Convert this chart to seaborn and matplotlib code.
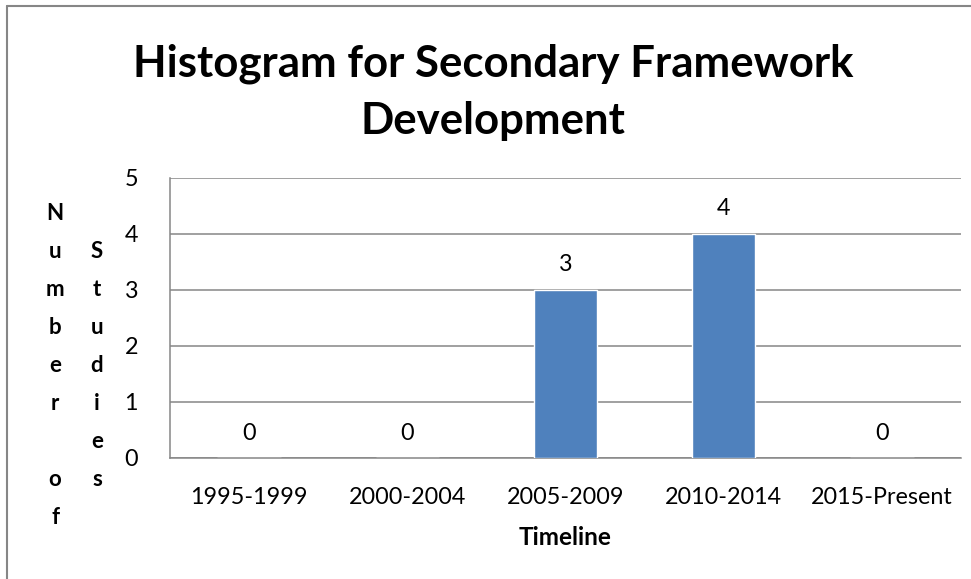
import matplotlib
matplotlib.use("Agg")
import matplotlib.pyplot as plt
import seaborn as sns
from matplotlib.lines import Line2D

# -------------------- Data --------------------
periods = ["1995-1999", "2000-2004", "2005-2009", "2010-2014", "2015-Present"]
counts = [0, 0, 3, 4, 0]
title = "Histogram for Secondary Framework\nDevelopment"
ylabel_left = "Number of"
ylabel_right = "Studies"
xlabel = "Timeline"

# -------------------- Style --------------------
sns.set_theme(style="white")
plt.rcParams["font.family"] = ["Lato", "DejaVu Sans"]
plt.rcParams["text.color"] = "black"
plt.rcParams["axes.labelcolor"] = "black"
bar_color = "#4F81BD"
line_color = "#868686"

W, H = 971, 579
fig = plt.figure(figsize=(W / 100, H / 100), dpi=100)
ax = fig.add_axes([170 / W, (H - 458) / H, 791 / W, 280 / H])

sns.barplot(x=periods, y=counts, color=bar_color, width=0.4, ax=ax,
            saturation=1, zorder=3)

ax.set_ylim(0, 5)
ax.set_yticks(range(6))
ax.set_xlim(-0.5, len(periods) - 0.5)
ax.grid(axis="y", color=line_color, linewidth=1.1, zorder=0)
ax.grid(axis="x", visible=False)
for side in ["top", "right"]:
    ax.spines[side].set_visible(False)
for side in ["left", "bottom"]:
    ax.spines[side].set_color(line_color)
    ax.spines[side].set_linewidth(1.1)
ax.tick_params(axis="x", length=0, pad=21, labelsize=16.8, labelcolor="black")
ax.tick_params(axis="y", length=0, pad=23, labelsize=16.8, labelcolor="black")
ax.set_ylabel("")
ax.set_xlabel(xlabel, fontsize=17.5, fontweight="bold", labelpad=13)

# value labels above bars
for i, v in enumerate(counts):
    ax.annotate(str(v), (i, v), xytext=(0, 18), textcoords="offset points",
                ha="center", va="center", fontsize=16.8, color="black")

# title
fig.text(493 / W, 1 - 92 / H, title, ha="center", va="center",
         fontsize=31.5, fontweight="bold", linespacing=1.52)

# stacked y label letters
fig.text(55 / W, 1 - 365 / H, "\n".join(ylabel_left), ha="center",
         va="center", fontsize=16, fontweight="bold", linespacing=2.0)
fig.text(97 / W, 1 - 365 / H, "\n".join(ylabel_right), ha="center",
         va="center", fontsize=16, fontweight="bold", linespacing=2.0)

# chart border (left and top visible)
fig.add_artist(Line2D([7 / W, 7 / W], [0, 1 - 6 / H], color=line_color,
                      linewidth=1.5, transform=fig.transFigure))
fig.add_artist(Line2D([7 / W, 1], [1 - 6 / H, 1 - 6 / H], color=line_color,
                      linewidth=1.5, transform=fig.transFigure))

fig.savefig("out.png", dpi=100)
